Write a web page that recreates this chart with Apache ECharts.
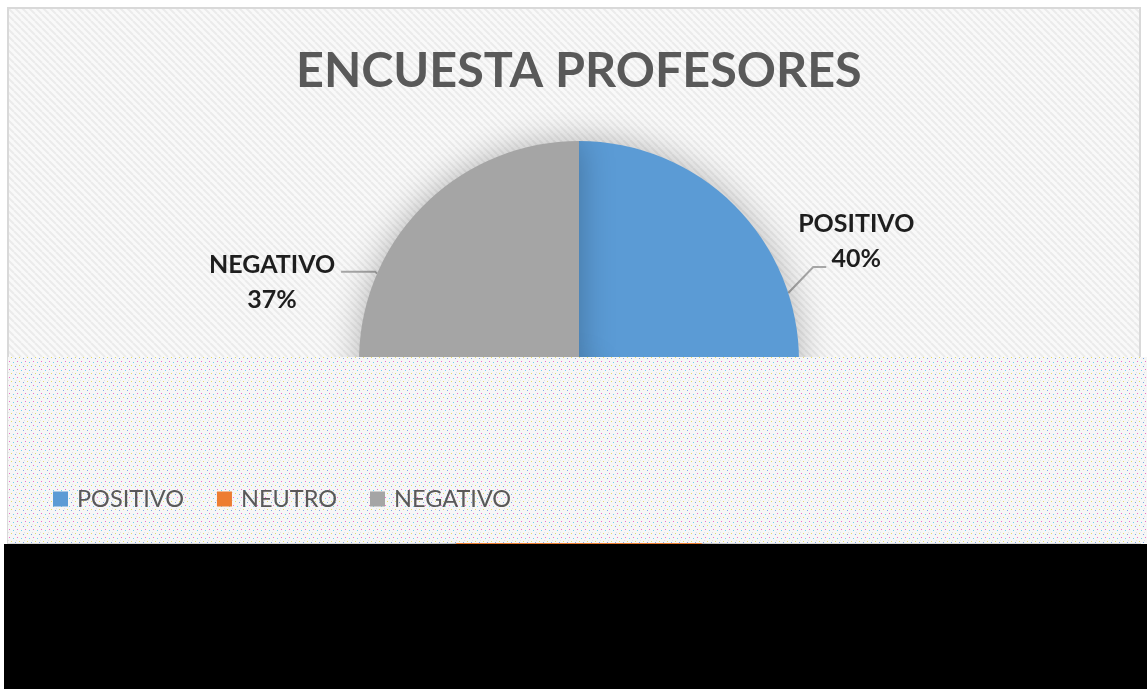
<!DOCTYPE html>
<html>
<head>
<meta charset="utf-8">
<script src="https://cdn.jsdelivr.net/npm/echarts@6/dist/echarts.min.js"></script>
<style>
  html, body { margin: 0; padding: 0; background: #fff; }
  #chart { width: 1147px; height: 689px; }
</style>
</head>
<body>
<div id="chart"></div>
<script>
// datos de la encuesta
const categories = ['POSITIVO', 'NEUTRO', 'NEGATIVO'];
const values = [40, 23, 37];
const colors = ['#5b9bd5', '#ed7d31', '#a5a5a5'];

// posición de las etiquetas respecto al borde del sector (como en Excel)
const labelPlace = [
  { dx: 68, dy: -52, line: [[0, 0], [25, -26], [38, -26]] },
  null,
  { dx: -105, dy: 9, line: [[0, 0], [-2, -2], [-36, -2]] }
];

// fondo rayado del área del gráfico
function hatch() {
  const c = document.createElement('canvas');
  c.width = 7; c.height = 7;
  const g = c.getContext('2d');
  g.fillStyle = '#f9f9f9';
  g.fillRect(0, 0, 7, 7);
  g.strokeStyle = '#ebebeb';
  g.lineWidth = 2;
  for (let k = -7; k <= 7; k += 7) {
    g.beginPath();
    g.moveTo(k, 0);
    g.lineTo(k + 7, 7);
    g.stroke();
  }
  return c;
}

// ruido de la zona inferior
function noise() {
  const c = document.createElement('canvas');
  c.width = 8; c.height = 8;
  const g = c.getContext('2d');
  g.fillStyle = '#f6f6f6';
  g.fillRect(0, 0, 8, 8);
  const dots = [[1, 1, '#f06fc8'], [5, 2, '#6fd0f0'], [3, 5, '#e6df6a'], [7, 6, '#7fa6e0'], [0, 4, '#e2e2e2']];
  dots.forEach(function (d) {
    g.fillStyle = d[2];
    g.fillRect(d[0], d[1], 1, 1);
  });
  return c;
}

const myChart = echarts.init(document.getElementById('chart'));

const option = {
  backgroundColor: '#fff',
  animation: false,
  color: colors,
  title: {
    text: 'ENCUESTA PROFESORES',
    left: 291,
    top: 42,
    textStyle: {
      fontFamily: 'Lato',
      fontWeight: 'bold',
      fontSize: 48.5,
      color: '#595959'
    }
  },
  legend: {
    data: categories,
    left: 53,
    top: 487,
    padding: 0,
    z: 10,
    icon: 'rect',
    itemWidth: 15,
    itemHeight: 15,
    itemGap: 33,
    textStyle: {
      fontFamily: 'Lato',
      fontSize: 23.5,
      color: '#595959',
      padding: [0, 0, 0, 4]
    }
  },
  graphic: [
    {
      type: 'rect',
      z: -10,
      shape: { x: 8, y: 8, width: 1132, height: 535 },
      style: { fill: { image: hatch(), repeat: 'repeat' }, stroke: '#d9d9d9', lineWidth: 2 }
    },
    {
      type: 'rect',
      z: 5,
      shape: { x: 8, y: 357, width: 1139, height: 186 },
      style: { fill: { image: noise(), repeat: 'repeat' } }
    },
    {
      type: 'rect',
      z: 6,
      shape: { x: 4, y: 544, width: 1143, height: 145 },
      style: { fill: '#000' }
    }
  ],
  series: [{
    type: 'pie',
    center: [579, 361],
    radius: 220,
    startAngle: 90,
    clockwise: true,
    data: categories.map(function (name, i) {
      return { name: name, value: values[i] };
    }),
    itemStyle: {
      shadowBlur: 35,
      shadowColor: 'rgba(0, 0, 0, 0.28)'
    },
    label: {
      show: true,
      formatter: '{v|{b}}\n{v|{d}%}',
      rich: {
        v: {
          fontFamily: 'Lato',
          fontWeight: 'bold',
          fontSize: 25,
          lineHeight: 35,
          color: '#1e1e1e',
          align: 'center'
        }
      }
    },
    labelLine: {
      show: true,
      length: 12,
      length2: 20,
      lineStyle: { color: '#a6a6a6', width: 2 }
    },
    labelLayout: function (p) {
      const place = labelPlace[p.dataIndex];
      const pts = p.labelLinePoints;
      if (!place || !pts) return {};
      const a = pts[0];
      return {
        x: a[0] + place.dx,
        y: a[1] + place.dy,
        align: 'center',
        verticalAlign: 'middle',
        labelLinePoints: place.line.map(function (q) { return [a[0] + q[0], a[1] + q[1]]; })
      };
    }
  }]
};

myChart.setOption(option);
</script>
</body>
</html>
